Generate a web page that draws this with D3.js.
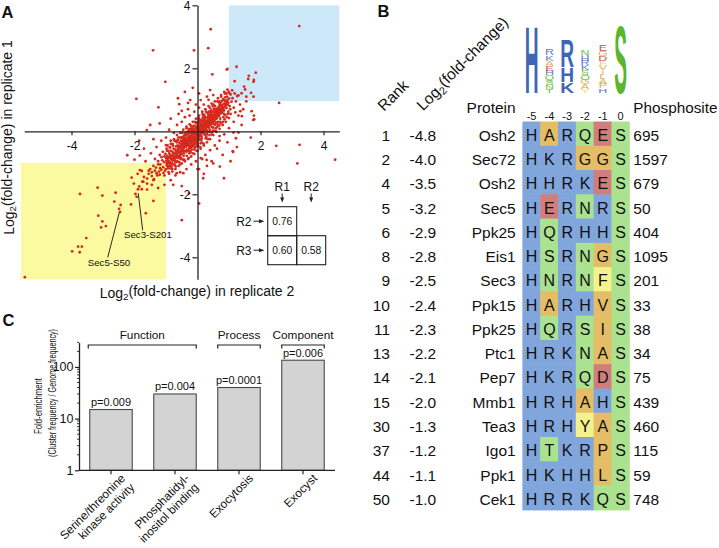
<!DOCTYPE html>
<html><head><meta charset="utf-8">
<script src="https://cdn.jsdelivr.net/npm/d3@7"></script>
<style>
html,body{margin:0;padding:0;background:#fff;}
svg{display:block;font-family:"Liberation Sans",Arial,Helvetica,sans-serif;}
</style></head><body>
<svg id="fig" width="719" height="548"></svg>
<script>
// ================= Panel A data =================
// [log2 fold-change replicate 2, log2 fold-change replicate 1]
const corePoints = [
[-0.52,-0.41],[-0.47,-0.63],[-0.44,-0.22],[-0.41,-0.50],[-0.38,-0.31],[-0.36,-0.12],[-0.33,-0.58],[-0.31,-0.40],[-0.29,-0.19],[-0.27,-0.05],
[-0.25,-0.47],[-0.23,-0.30],[-0.21,-0.13],[-0.19,-0.36],[-0.17,0.02],[-0.15,-0.24],[-0.13,-0.44],[-0.11,-0.09],[-0.09,-0.28],[-0.07,0.08],
[-0.05,-0.17],[-0.03,-0.35],[-0.01,0.03],[0.01,-0.12],[0.03,0.19],[0.05,-0.26],[0.07,0.05],[0.09,-0.06],[0.11,0.23],[0.13,-0.15],
[0.15,0.11],[0.17,0.31],[0.19,-0.02],[0.21,0.17],[0.23,0.39],[0.25,0.07],[0.27,0.26],[0.29,-0.05],[0.31,0.33],[0.33,0.15],
[0.35,0.47],[0.37,0.24],[0.39,0.05],[0.41,0.38],[0.43,0.55],[0.45,0.29],[0.47,0.13],[0.49,0.45],[0.51,0.62],[0.53,0.34],
[0.55,0.21],[0.57,0.52],[0.59,0.70],[0.61,0.41],[0.63,0.58],[0.65,0.30],[0.67,0.77],[0.69,0.49],[0.71,0.64],[0.73,0.86],
[-0.58,-0.52],[-0.55,-0.75],[-0.53,-0.30],[-0.50,-0.58],[-0.48,-0.44],[-0.46,-0.27],[-0.43,-0.70],[-0.40,-0.37],[-0.37,-0.49],[-0.35,-0.20],
[-0.32,-0.45],[-0.30,-0.28],[-0.28,-0.62],[-0.26,-0.16],[-0.24,-0.39],[-0.22,-0.05],[-0.20,-0.52],[-0.18,-0.22],[-0.16,-0.10],[-0.14,-0.33],
[-0.12,0.05],[-0.10,-0.20],[-0.08,-0.41],[-0.06,-0.02],[-0.04,0.12],[-0.02,-0.23],[0.00,-0.06],[0.02,0.09],[0.04,-0.18],[0.06,0.26],
[0.08,0.02],[0.10,-0.14],[0.12,0.14],[0.14,0.35],[0.16,0.03],[0.18,0.20],[0.20,-0.08],[0.22,0.28],[0.24,0.12],[0.26,0.44],
[0.28,0.19],[0.30,0.03],[0.32,0.25],[0.34,0.40],[0.36,0.12],[0.38,0.31],[0.40,0.52],[0.42,0.21],[0.44,0.40],[0.46,0.60],
[0.48,0.27],[0.50,0.50],[0.52,0.37],[0.54,0.68],[0.56,0.44],[0.58,0.28],[0.60,0.57],[0.62,0.72],[0.64,0.47],[0.66,0.62],
[-1.18,-1.05],[-1.15,-1.22],[-1.12,-0.92],[-1.09,-1.14],[-1.06,-0.98],[-1.03,-1.25],[-1.00,-0.85],[-0.98,-1.06],[-0.96,-0.78],[-0.94,-1.18],
[-0.92,-0.95],[-0.90,-0.70],[-0.88,-1.10],[-0.86,-0.86],[-0.84,-0.62],[-0.82,-1.00],[-0.80,-0.77],[-0.78,-0.93],[-0.76,-0.55],[-0.74,-1.04],
[-0.72,-0.70],[-0.70,-0.85],[-0.68,-0.48],[-0.66,-0.65],[-0.64,-0.95],[-0.62,-0.57],[-0.60,-0.78],[-0.58,-0.36],[-0.56,-0.62],[-0.54,-0.88],
[0.68,0.55],[0.70,0.85],[0.72,0.40],[0.74,0.68],[0.76,0.94],[0.78,0.59],[0.80,0.76],[0.82,1.02],[0.84,0.66],[0.86,0.88],
[0.88,0.52],[0.90,0.97],[0.92,0.74],[0.94,1.10],[0.96,0.85],[0.98,0.62],[1.00,1.04],[1.02,0.80],[1.05,1.17],[1.08,0.94],
[-0.95,-0.88],[-0.91,-1.02],[-0.87,-0.75],[-0.83,-0.90],[-0.79,-0.66],[-0.75,-0.82],[-0.71,-0.58],[-0.67,-0.78],[-0.63,-0.45],[-0.59,-0.68],
[-0.57,-0.47],[-0.51,-0.70],[-0.49,-0.33],[-0.45,-0.54],[-0.42,-0.15],[-0.39,-0.62],[-0.34,-0.42],[-0.30,-0.10],[-0.26,-0.53],[-0.22,-0.27],
[-0.18,-0.45],[-0.14,-0.17],[-0.10,-0.32],[-0.06,-0.11],[-0.02,0.15],[0.02,-0.30],[0.06,-0.09],[0.10,0.18],[0.14,-0.04],[0.18,0.08],
[0.22,0.02],[0.26,0.31],[0.30,0.15],[0.34,0.29],[0.38,0.17],[0.42,0.46],[0.46,0.36],[0.50,0.24],[0.54,0.53],[0.58,0.39],
[0.62,0.63],[0.66,0.51],[0.70,0.71],[0.74,0.57],[0.78,0.81],[0.82,0.72],[0.86,0.97],[0.90,0.83],[0.94,0.95],[0.98,0.91],
[-0.99,-0.93],[-0.97,-1.01],[-0.93,-0.84],[-0.89,-0.97],[-0.85,-0.79],[-0.81,-0.88],[-0.77,-0.71],[-0.73,-0.90],[-0.69,-0.62],[-0.65,-0.80],
[-0.61,-0.49],[-0.57,-0.66],[-0.53,-0.52],[-0.49,-0.61],[-0.45,-0.38],[-0.41,-0.45],[-0.37,-0.26],[-0.33,-0.36],[-0.29,-0.44],[-0.25,-0.22],
[-0.21,-0.38],[-0.17,-0.12],[-0.13,-0.28],[-0.09,-0.02],[-0.05,-0.27],[-0.01,-0.09],[0.03,0.07],[0.07,-0.16],[0.11,0.04],[0.15,0.24],
[0.19,0.10],[0.23,0.22],[0.27,0.09],[0.31,0.22],[0.35,0.36],[0.39,0.25],[0.43,0.33],[0.47,0.50],[0.51,0.40],[0.55,0.58],
[0.59,0.47],[0.63,0.66],[0.67,0.57],[0.71,0.79],[0.75,0.70],[0.79,0.65],[0.83,0.86],[0.87,0.78],[0.91,0.91],[0.95,1.00],
[-0.96,-1.10],[-0.90,-0.82],[-0.84,-1.02],[-0.78,-0.84],[-0.72,-0.78],[-0.66,-0.72],[-0.60,-0.62],[-0.54,-0.47],[-0.48,-0.55],[-0.42,-0.34],
[-0.36,-0.43],[-0.30,-0.33],[-0.24,-0.30],[-0.18,-0.30],[-0.12,-0.20],[-0.06,-0.19],[0.00,0.02],[0.06,0.14],[0.12,-0.06],[0.18,0.14],
[0.24,0.24],[0.30,0.30],[0.36,0.28],[0.42,0.31],[0.48,0.42],[0.54,0.45],[0.60,0.63],[0.66,0.70],[0.72,0.62],[0.78,0.74],
[-0.46,-0.46],[-0.40,-0.28],[-0.34,-0.30],[-0.28,-0.25],[-0.22,-0.19],[-0.16,-0.05],[-0.10,-0.09],[-0.04,-0.07],[0.02,0.00],[0.08,0.10],
[0.14,0.14],[0.20,0.11],[0.26,0.18],[0.32,0.36],[0.38,0.43],[0.44,0.48],[0.50,0.33],[0.56,0.61],[0.62,0.54],[0.68,0.69],
[-0.95,-0.45],[-0.90,-1.35],[-0.85,-0.30],[-0.80,-1.28],[-0.75,-0.25],[-0.70,-1.20],[-0.65,-0.12],[-0.60,-1.10],[-0.55,-0.05],[-0.50,-1.02],
[-0.45,0.05],[-0.40,-0.95],[-0.35,0.15],[-0.30,-0.88],[-0.25,0.22],[-0.20,-0.80],[-0.15,0.30],[-0.10,-0.72],[-0.05,0.40],[0.00,-0.62],
[0.05,0.50],[0.10,-0.55],[0.15,0.62],[0.20,-0.45],[0.25,0.70],[0.30,-0.35],[0.35,0.80],[0.40,-0.25],[0.45,0.88],[0.50,-0.12],
[0.55,0.95],[0.60,-0.02],[0.65,1.05],[0.70,0.08],[0.75,1.15],[0.80,0.20],[0.85,1.25],[0.90,0.30],[0.95,1.32],[1.00,0.42],
[-0.92,-0.62],[-0.86,-1.18],[-0.78,-0.45],[-0.72,-1.08],[-0.66,-0.35],[-0.58,-0.98],[-0.52,-0.20],[-0.46,-0.90],[-0.40,-0.10],[-0.34,-0.78],
[-0.28,0.02],[-0.22,-0.66],[-0.16,0.12],[-0.10,-0.58],[-0.04,0.25],[0.02,-0.46],[0.08,0.36],[0.14,-0.36],[0.20,0.45],[0.26,-0.22],
[0.32,0.58],[0.38,-0.12],[0.44,0.68],[0.50,0.02],[0.56,0.80],[0.62,0.14],[0.68,0.92],[0.74,0.25],[0.80,1.00],[0.86,0.38],
[-0.62,-0.28],[-0.56,-0.82],[-0.44,-0.78],[-0.38,-0.05],[-0.26,-0.70],[-0.20,0.05],[-0.08,-0.52],[-0.02,0.28],[0.10,-0.38],[0.16,0.42],
[0.28,-0.18],[0.34,0.55],[0.46,-0.02],[0.52,0.72],[0.64,0.22],[0.70,0.95],[0.82,0.45],[0.88,1.08],[0.96,0.55],[1.02,1.20],
[-0.35,-0.65],[-0.32,-0.02],[-0.18,-0.58],[-0.12,0.18],[0.00,-0.40],[0.04,0.32],[0.12,-0.28],[0.22,0.52],[0.30,-0.10],[0.40,0.62],
[-1.02,-0.72],[-1.08,-1.32],[-1.14,-0.82],[-1.20,-1.38],[-0.88,-0.52],[-0.82,-1.12],[-0.68,-0.98],[-0.52,-0.85],[0.58,0.10],[0.72,0.30],
[0.84,0.55],[0.92,1.20],[1.04,0.70],[1.10,1.30],[0.48,0.80],[0.36,0.62],[-0.24,-0.62],[-0.14,-0.48],[0.04,0.38],[0.18,0.50],
[-0.07,0.15],[-0.03,-0.48],[0.09,0.28],[0.13,-0.22],[0.21,0.35],[0.25,-0.12],[0.33,0.46],[0.37,-0.02],[0.45,0.58],[0.49,0.12],
[-0.11,-0.38],[-0.19,0.10],[-0.23,-0.50],[-0.27,0.08],[-0.31,-0.60],[-0.39,-0.10],[-0.43,-0.62],[-0.47,-0.18],[-0.51,-0.72],[-0.55,-0.20],
[-0.63,-0.85],[-0.67,-0.30],[-0.71,-0.95],[-0.79,-0.40],[-0.83,-1.05],[-0.87,-0.50],[-0.93,-1.12],[-0.97,-0.62],[-1.01,-1.20],[-1.05,-0.80]
];
const haloPoints = [
[-1.45,-1.30],[-1.38,-1.52],[-1.32,-1.15],[-1.28,-1.40],[-1.25,-0.95],[-1.22,-1.28],[-1.40,-1.10],[-1.35,-0.88],[-1.20,-0.75],[-1.10,-0.65],
[-1.05,-1.40],[-0.98,-0.55],[-0.92,-1.30],[-0.85,-0.40],[-0.80,-1.20],[-0.73,-0.30],[-0.69,-1.12],[-0.61,-0.20],[-0.55,-1.05],[-0.48,-0.05],
[-0.42,-0.90],[-0.35,0.10],[-0.28,-0.85],[-0.21,0.18],[-0.15,-0.70],[-0.08,0.30],[-0.03,-0.62],[0.04,0.42],[0.09,-0.50],[0.16,0.55],
[0.20,-0.40],[0.27,0.62],[0.33,-0.25],[0.39,0.75],[0.45,-0.10],[0.51,0.85],[0.57,0.02],[0.63,0.95],[0.69,0.18],[0.75,1.10],
[0.81,0.30],[0.87,1.20],[0.93,0.45],[0.99,1.25],[1.05,0.55],[1.11,1.05],[1.15,0.75],[1.18,1.20],[1.22,0.95],[1.26,1.12],
[-1.65,-0.95],[-1.55,-1.25],[-1.48,-0.70],[-1.30,-0.50],[-1.15,-0.30],[-1.00,-0.20],[-0.90,0.05],[-0.75,-0.05],[-0.65,0.20],[-0.50,0.30],
[-0.40,0.45],[-0.25,0.50],[-0.10,0.62],[0.05,0.75],[0.20,0.85],[0.35,1.00],[0.50,1.15],[-0.30,0.70],[-0.60,0.55],[-0.85,0.40],
[-1.20,0.25],[-1.40,-0.25],[-1.70,-0.55],[-1.85,-0.30],[-2.00,-0.90],[-1.90,-1.35],[-1.75,-1.60],[-1.60,-1.85],[-1.45,-1.70],[-1.25,-1.80],
[-1.05,-1.70],[-0.85,-1.55],[-0.70,-1.40],[-0.55,-1.30],[-0.35,-1.20],[-0.20,-1.05],[-0.05,-0.95],[0.10,-0.85],[0.25,-0.75],[0.40,-0.60],
[0.55,-0.45],[0.70,-0.30],[0.85,-0.10],[1.00,0.10],[1.15,0.30],[1.30,0.50],[1.45,0.70],[1.55,0.95],[1.35,0.85],[1.20,0.60],
[-0.62,1.05],[-0.40,1.25],[-0.15,1.38],[-0.30,0.90],[-0.50,0.65],[0.05,1.20],[-0.05,0.85],
[0.70,-0.15],[0.95,-0.35],[1.25,-0.50],[0.80,-0.75],[1.40,0.20],[1.05,-0.95],[0.62,-0.55],
[-1.85,-1.75],[-1.70,-1.45],[-1.55,-1.35],[-1.35,-1.25],[-1.25,-1.05],[-1.50,-1.20],[-1.40,-1.55]
];
const outlierPoints = [
[0.42,3.24],[-1.41,2.57],[-0.11,2.57],[0.34,2.64],[-1.02,1.57],[-1.94,1.03],[-1.24,0.76],[0.47,1.81],[0.95,1.98],[-0.58,0.86],
[-1.50,0.20],[-1.61,0.04],[-2.23,-0.76],[-1.83,-0.77],[-1.00,-0.44],[-0.23,0.99],[0.10,0.99],[0.40,1.31],[0.30,1.10],
[3.23,3.34],[1.24,2.05],[0.93,1.96],[1.85,1.86],[1.63,1.76],[1.61,1.66],[1.79,1.63],[1.78,1.57],[1.18,1.59],[1.48,1.42],
[1.51,1.33],[1.40,1.21],[1.70,1.22],[1.78,1.10],[1.55,1.10],[1.30,1.14],[2.59,0.90],[1.36,0.64],[1.72,0.64],[1.41,0.48],
[1.79,0.50],[1.80,0.38],[1.14,-0.04],[1.30,-0.04],[1.69,-0.20],[1.22,-0.22],[2.50,-0.46],[3.24,-0.43],[1.13,-0.66],[4.37,-0.90],
[3.17,-1.02],[0.84,-1.49],[0.15,-0.88],[0.30,-1.10],[0.45,-0.95],[0.20,-1.35],[0.05,-1.20],
[1.12,-0.63],[1.77,0.36],[-0.50,-1.74],[0.00,-1.20],[-0.45,-1.33],[0.50,-1.02],
[-5.48,-4.63],[-3.73,-1.99],[-3.17,-1.79],[-3.02,-2.04],[-2.60,-1.95],[-2.64,-2.23],[-2.44,-2.34],[-2.49,-2.46],[-2.46,-2.56],
[-3.15,-2.68],[-3.02,-2.86],[-2.91,-3.01],[-3.06,-3.05],[-3.53,-3.39],[-3.79,-3.66],[-3.67,-3.66],[-3.98,-3.81],[-3.74,-3.84],
[-2.11,-2.32],[-1.97,-1.99],[-1.89,-1.84],[-1.77,-1.84],[-1.93,-2.08],[-1.64,-2.60],[-1.40,-2.21],[-0.50,-2.82],[0.05,-2.29],
[-2.09,-1.47],[-1.83,-1.23],[-1.77,-1.26],[-1.72,-1.60],[-1.60,-1.66],[-1.45,-1.42],[-1.30,-1.33],[-1.19,-1.17],[-1.60,-1.50],[-2.02,-1.66],
[0.29,-0.91],[-0.77,-1.70],[-0.66,-1.33],[-0.27,-1.97],[0.18,-1.49],[0.71,-1.12]
];
const axisTicksA = [-4, -2, 2, 4];
const highlightBoxes = [
  {x0: -5.6, x1: -1.0, y0: -4.7, y1: -1.0, fill: "#fbfaa0"},
  {x0: 1.0, x1: 4.5, y0: 0.96, y1: 4.0, fill: "#cde8f9"}
];
const labelledSites = [
  {name: "Sec3-S201", x: -1.89, y: -1.84},
  {name: "Sec5-S50", x: -2.46, y: -2.56}
];
const corrRowLabels = ["R2", "R3"];
const corrColLabels = ["R1", "R2"];
const corrValues = [[0.76, null], [0.60, 0.58]];

// ================= Panel B data =================
const ranks = [1, 2, 4, 5, 6, 8, 9, 10, 11, 13, 14, 15, 30, 37, 44, 50];
const log2FoldChange = [-4.8, -4.0, -3.5, -3.2, -2.9, -2.8, -2.5, -2.4, -2.3, -2.2, -2.1, -2.0, -1.3, -1.2, -1.1, -1.0];
const proteins = ["Osh2","Sec72","Osh2","Sec5","Ppk25","Eis1","Sec3","Ppk15","Ppk25","Ptc1","Pep7","Mmb1","Tea3","Igo1","Ppk1","Cek1"];
const sequences = ["HARQES","HKRGGS","HHRKES","HERNRS","HQRHHS","HSRNGS","HNRNFS","HARHVS","HQRSIS","HRKNAS","HKRQDS","HRHAHS","HRHYAS","HTKRPS","HKHHLS","HRRKQS"];
const phosphosites = [695, 1597, 679, 50, 404, 1095, 201, 33, 38, 34, 75, 439, 460, 115, 59, 748];
const motifPositions = ["-5", "-4", "-3", "-2", "-1", "0"];
// sequence logo stacks (bottom -> top), heights in bits
const logoStacks = [
  [["H", 4.2]],
  [["T",0.22],["N",0.26],["S",0.28],["Q",0.30],["H",0.28],["E",0.30],["A",0.30],["K",0.36],["R",0.40]],
  [["K",0.65],["H",0.90],["R",1.75]],
  [["Y",0.24],["A",0.28],["G",0.28],["Q",0.30],["S",0.28],["K",0.30],["R",0.28],["H",0.32],["N",0.42]],
  [["H",0.26],["P",0.28],["A",0.28],["L",0.28],["I",0.26],["V",0.28],["F",0.30],["D",0.30],["G",0.32],["E",0.38]],
  [["S", 4.32]]
];

// ================= Panel C data =================
const goTerms = [["Serine/threonine", "kinase activity"], ["Phosphatidyl-", "inositol binding"], ["Exocytosis"], ["Exocyst"]];
const foldEnrichment = [15, 30, 40, 135];
const pValues = ["p=0.009", "p=0.004", "p=0.0001", "p=0.006"];
const goGroups = [{name: "Function", first: 0, last: 1}, {name: "Process", first: 2, last: 2}, {name: "Component", first: 3, last: 3}];
const yTicksC = [1, 10, 100];

// ================= drawing =================
const svg = d3.select("#fig");
const ink = "#222";
svg.append("rect").attr("width", 719).attr("height", 548).attr("fill", "#fff");

// ---------- Panel A ----------
const A = svg.append("g");
const xA = d3.scaleLinear().domain([-5.5, 4.5]).range([24.25, 339.25]);
const yA = d3.scaleLinear().domain([-4.7, 4]).range([279.35, 5.3]);

A.selectAll("rect.hl").data(highlightBoxes).join("rect").attr("class", "hl")
  .attr("x", d => xA(d.x0)).attr("width", d => xA(d.x1) - xA(d.x0))
  .attr("y", d => yA(d.y1)).attr("height", d => yA(d.y0) - yA(d.y1))
  .attr("fill", d => d.fill);

const allPoints = corePoints.concat(haloPoints, outlierPoints);
A.append("g").selectAll("circle").data(allPoints).join("circle")
  .attr("cx", d => xA(d[0])).attr("cy", d => yA(d[1])).attr("r", 1.4).attr("fill", "#d52a1d");

function styleAxis(g, fs) {
  g.select(".domain").attr("stroke", ink).attr("stroke-width", 1.3);
  g.selectAll(".tick line").attr("stroke", ink).attr("stroke-width", 1.2);
  g.selectAll(".tick text").attr("fill", "#111").style("font-size", fs + "px").style("font-family", "'Liberation Sans',Arial,sans-serif");
}
const gxA = A.append("g").attr("transform", `translate(0,${yA(0)})`)
  .call(d3.axisBottom(xA).tickValues(axisTicksA).tickSize(4).tickSizeOuter(0).tickPadding(6).tickFormat(d => String(d)));
styleAxis(gxA, 12);
const gyA = A.append("g").attr("transform", `translate(${xA(0)},0)`)
  .call(d3.axisLeft(yA).tickValues(axisTicksA).tickSize(5).tickSizeOuter(0).tickPadding(2).tickFormat(d => String(d)));
styleAxis(gyA, 12);

function logTitle(sel, rest) {
  sel.append("tspan").text("Log");
  sel.append("tspan").attr("dy", "0.3em").style("font-size", "70%").text("2");
  sel.append("tspan").attr("dy", "-0.3em").text(rest);
}
A.append("text").attr("x", 197).attr("y", 297.5).attr("text-anchor", "middle").style("font-size", "14px").attr("fill", "#111")
  .call(logTitle, "(fold-change) in replicate 2");
A.append("text").attr("transform", "translate(13.5,137.5) rotate(-90)").attr("text-anchor", "middle").style("font-size", "14px").attr("fill", "#111")
  .call(logTitle, "(fold-change) in replicate 1");

// labelled sites with leader lines
const siteLayout = [{lx0: 0.3, ly0: 4, lx1: 4.7, ly1: 41, tx: -14, ty: 49}, {lx0: -0.7, ly0: 0.5, lx1: -12.3, ly1: 45.5, tx: -32.3, ty: 54}];
labelledSites.forEach((s, i) => {
  const px = xA(s.x), py = yA(s.y), L = siteLayout[i];
  A.append("line").attr("x1", px + L.lx0).attr("y1", py + L.ly0).attr("x2", px + L.lx1).attr("y2", py + L.ly1).attr("stroke", "#111").attr("stroke-width", 0.9);
  A.append("text").attr("x", px + L.tx).attr("y", py + L.ty).style("font-size", "9.7px").attr("fill", "#111").text(s.name);
});

// correlation inset
const cs = 29, ix = 267.7, iy = 206.7;
const inset = A.append("g");
corrValues.forEach((row, i) => row.forEach((v, j) => {
  if (v == null) return;
  inset.append("rect").attr("x", ix + j * cs).attr("y", iy + i * cs).attr("width", cs).attr("height", cs)
    .attr("fill", "none").attr("stroke", ink).attr("stroke-width", 1.1);
  inset.append("text").attr("x", ix + j * cs + cs / 2).attr("y", iy + i * cs + cs / 2 + 3.7).attr("text-anchor", "middle")
    .style("font-size", "10.3px").attr("fill", "#111").text(v.toFixed(2));
}));
corrColLabels.forEach((lab, j) => {
  const cx = ix + j * cs + cs / 2;
  inset.append("text").attr("x", cx).attr("y", 190.7).attr("text-anchor", "middle").style("font-size", "12px").attr("fill", "#111").text(lab);
  inset.append("line").attr("x1", cx).attr("x2", cx).attr("y1", 193.5).attr("y2", 198).attr("stroke", ink).attr("stroke-width", 1);
  inset.append("path").attr("d", `M${cx - 2},197.5L${cx + 2},197.5L${cx},202.5Z`).attr("fill", ink);
});
corrRowLabels.forEach((lab, i) => {
  const cy = iy + i * cs + cs / 2;
  inset.append("text").attr("x", 251.5).attr("y", cy + 4.3).attr("text-anchor", "end").style("font-size", "12px").attr("fill", "#111").text(lab);
  inset.append("line").attr("x1", 253.5).attr("x2", 260).attr("y1", cy).attr("y2", cy).attr("stroke", ink).attr("stroke-width", 1);
  inset.append("path").attr("d", `M259,${cy - 2}L259,${cy + 2}L264.5,${cy}Z`).attr("fill", ink);
});

A.append("text").attr("x", 1.5).attr("y", 18.3).style("font-size", "16.5px").style("font-weight", "bold").attr("fill", "#111").text("A");

// ---------- Panel B ----------
const B = svg.append("g");
const rowBand = d3.scaleBand().domain(d3.range(ranks.length)).range([121.8, 510.1]);
const colBand = d3.scaleBand().domain(motifPositions).range([522.7, 629.5]);
const cellColor = aa => "HKR".includes(aa) ? "#81a6dc" : "DE".includes(aa) ? "#d17d7b" : "FYW".includes(aa) ? "#f3f28d"
  : "STNQC".includes(aa) ? "#abe290" : "#e5bd66";
const logoColor = aa => "HKR".includes(aa) ? "#3f66b6" : "DE".includes(aa) ? "#c23c3d" : "FYW".includes(aa) ? "#ddd64c"
  : "STNQC".includes(aa) ? "#5bb52e" : "#d8a540";

sequences.forEach((seq, i) => {
  seq.split("").forEach((aa, j) => {
    const p = motifPositions[j];
    B.append("rect").attr("x", colBand(p) - 0.3).attr("y", rowBand(i) - 0.3)
      .attr("width", colBand.bandwidth() + 0.6).attr("height", rowBand.bandwidth() + 0.6).attr("fill", cellColor(aa));
  });
});
const tableFont = "15.5px";
sequences.forEach((seq, i) => {
  const base = rowBand(i) + 19;
  seq.split("").forEach((aa, j) => {
    B.append("text").attr("x", colBand(motifPositions[j]) + colBand.bandwidth() / 2).attr("y", base)
      .attr("text-anchor", "middle").style("font-size", "16px").attr("fill", "#111").text(aa);
  });
  B.append("text").attr("x", 390).attr("y", base).attr("text-anchor", "end").style("font-size", tableFont).attr("fill", "#111").text(ranks[i]);
  B.append("text").attr("x", 409.5).attr("y", base).style("font-size", tableFont).attr("fill", "#111").text(log2FoldChange[i].toFixed(1));
  B.append("text").attr("x", 515.7).attr("y", base).attr("text-anchor", "end").style("font-size", tableFont).attr("fill", "#111").text(proteins[i]);
  B.append("text").attr("x", 633.3).attr("y", base).style("font-size", tableFont).attr("fill", "#111").text(phosphosites[i]);
});
// headers
B.append("text").attr("transform", "translate(384,112) rotate(-45)").style("font-size", tableFont).attr("fill", "#111").text("Rank");
B.append("text").attr("transform", "translate(423,111.5) rotate(-45)").style("font-size", tableFont).attr("fill", "#111").call(logTitle, "(fold-change)");
B.append("text").attr("x", 515.7).attr("y", 112.5).attr("text-anchor", "end").style("font-size", tableFont).attr("fill", "#111").text("Protein");
B.append("text").attr("x", 633.3).attr("y", 112.5).style("font-size", "15.3px").attr("fill", "#111").text("Phosphosite");
motifPositions.forEach(p => {
  B.append("text").attr("x", colBand(p) + colBand.bandwidth() / 2).attr("y", 119.5).attr("text-anchor", "middle")
    .style("font-size", "11px").attr("fill", "#111").text(p);
});
// sequence logo
const yLogo = d3.scaleLinear().domain([0, 4.32]).range([92.5, 22.5]);
logoStacks.forEach((stack, j) => {
  const cx = colBand(motifPositions[j]) + colBand.bandwidth() / 2;
  const small = stack.length > 3;
  const w = small ? 7.5 : 11.5;
  let acc = 0;
  stack.forEach(([aa, bits]) => {
    const yb = yLogo(acc), yt = yLogo(acc + bits);
    const h = yb - yt;
    B.append("text").attr("transform", `translate(${cx},${yb}) scale(${w / 60},${h / 72})`)
      .attr("text-anchor", "middle").style("font-size", "100px").style("font-weight", small ? "normal" : "bold")
      .attr("fill", logoColor(aa)).attr("opacity", small ? 0.85 : 1).text(aa);
    acc += bits;
  });
});
B.append("text").attr("x", 377.5).attr("y", 17.3).style("font-size", "16.5px").style("font-weight", "bold").attr("fill", "#111").text("B");

// ---------- Panel C ----------
const C = svg.append("g");
const catKeys = goTerms.map(t => t.join(" "));
const xC = d3.scaleBand().domain(catKeys).range([79, 335]).paddingInner(0.336).paddingOuter(0.168);
const yC = d3.scaleLog().domain([1, 300]).range([470.3, 342.3]);

C.selectAll("rect.bar").data(foldEnrichment).join("rect").attr("class", "bar")
  .attr("x", (d, i) => xC(catKeys[i])).attr("width", xC.bandwidth())
  .attr("y", d => yC(d)).attr("height", d => yC(1) - yC(d))
  .attr("fill", "#d3d3d3").attr("stroke", "#4a4a4a").attr("stroke-width", 1.1);
C.selectAll("text.pv").data(pValues).join("text").attr("class", "pv")
  .attr("x", (d, i) => xC(catKeys[i]) + xC.bandwidth() / 2).attr("y", (d, i) => yC(foldEnrichment[i]) - 3.5)
  .attr("text-anchor", "middle").style("font-size", "11px").attr("fill", "#111").text(d => d);

// y axis (log)
const gyC = C.append("g").attr("transform", "translate(79,0)")
  .call(d3.axisLeft(yC).tickValues(yTicksC).tickSize(4).tickSizeOuter(0).tickPadding(1.5).tickFormat(d3.format("d")));
styleAxis(gyC, 12.5);
const minorC = [];
[1, 10, 100].forEach(dec => { for (let k = 2; k <= 9; k++) { if (dec * k <= 300) minorC.push(dec * k); } });
C.append("g").selectAll("line").data(minorC).join("line")
  .attr("x1", 77).attr("x2", 79).attr("y1", d => yC(d)).attr("y2", d => yC(d)).attr("stroke", ink).attr("stroke-width", 0.9);
// x axis
C.append("line").attr("x1", 79).attr("x2", 335).attr("y1", yC(1)).attr("y2", yC(1)).attr("stroke", ink).attr("stroke-width", 1.3);
catKeys.forEach(k => {
  const cx = xC(k) + xC.bandwidth() / 2;
  C.append("line").attr("x1", cx).attr("x2", cx).attr("y1", yC(1)).attr("y2", yC(1) + 4).attr("stroke", ink).attr("stroke-width", 1.2);
});
goTerms.forEach((lines, i) => {
  const cx = xC(catKeys[i]) + xC.bandwidth() / 2;
  const t = C.append("text").attr("transform", `translate(${cx + 15},${479}) rotate(-45)`)
    .attr("text-anchor", "end").style("font-size", "11.8px").attr("fill", "#111");
  lines.forEach((ln, k) => t.append("tspan").attr("x", 0).attr("dy", k ? "1.1em" : 0).text(ln));
});
// group brackets
goGroups.forEach(g => {
  const x0 = xC(catKeys[g.first]) - (g.first === 0 ? 1.5 : 0), x1 = xC(catKeys[g.last]) + xC.bandwidth();
  C.append("path").attr("d", `M${x0},348.5V345H${x1}V348.5`).attr("fill", "none").attr("stroke", ink).attr("stroke-width", 1.2);
  C.append("text").attr("x", (x0 + x1) / 2).attr("y", 338.5).attr("text-anchor", "middle").style("font-size", "11.8px").attr("fill", "#111").text(g.name);
});
// y title
C.append("text").attr("transform", "translate(42,406) rotate(-90)").attr("text-anchor", "middle").style("font-size", "10.5px")
  .attr("textLength", 56).attr("lengthAdjust", "spacingAndGlyphs").attr("fill", "#111").text("Fold-enrichment");
C.append("text").attr("transform", "translate(55.5,393) rotate(-90)").attr("text-anchor", "middle").style("font-size", "10.5px")
  .attr("textLength", 128).attr("lengthAdjust", "spacingAndGlyphs").attr("fill", "#111").text("(Cluster frequency / Genome frequency)");
C.append("text").attr("x", 2.5).attr("y", 326).style("font-size", "16.5px").style("font-weight", "bold").attr("fill", "#111").text("C");
</script>
</body></html>
